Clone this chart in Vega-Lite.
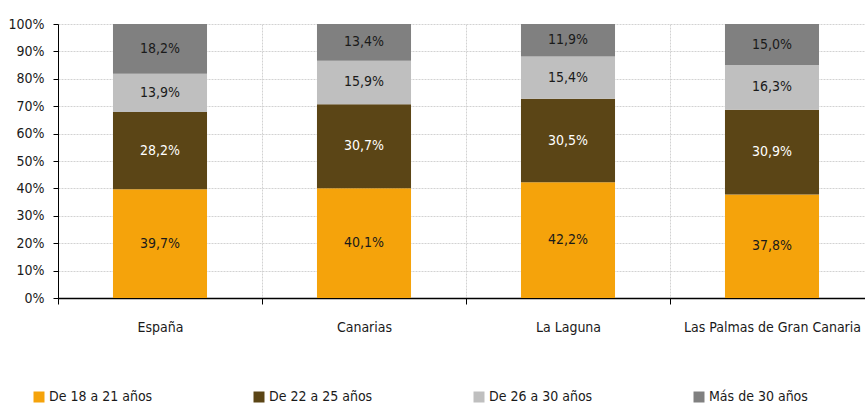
{
  "$schema": "https://vega.github.io/schema/vega-lite/v6.json",
  "autosize": {"type": "none"},
  "width": 807,
  "height": 274,
  "padding": {"left": 58, "top": 24, "right": 0, "bottom": 106},
  "config": {
    "view": {"stroke": null},
    "font": "DejaVu Sans Condensed",
    "axis": {"labelColor": "#1a1a1a", "labelFontSize": 14}
  },
  "data": {
    "values": [
      {"region": "España", "grupo": "De 18 a 21 años", "ord": 1, "pct": 39.7},
      {"region": "España", "grupo": "De 22 a 25 años", "ord": 2, "pct": 28.2},
      {"region": "España", "grupo": "De 26 a 30 años", "ord": 3, "pct": 13.9},
      {"region": "España", "grupo": "Más de 30 años", "ord": 4, "pct": 18.2},
      {"region": "Canarias", "grupo": "De 18 a 21 años", "ord": 1, "pct": 40.1},
      {"region": "Canarias", "grupo": "De 22 a 25 años", "ord": 2, "pct": 30.7},
      {"region": "Canarias", "grupo": "De 26 a 30 años", "ord": 3, "pct": 15.9},
      {"region": "Canarias", "grupo": "Más de 30 años", "ord": 4, "pct": 13.4},
      {"region": "La Laguna", "grupo": "De 18 a 21 años", "ord": 1, "pct": 42.2},
      {"region": "La Laguna", "grupo": "De 22 a 25 años", "ord": 2, "pct": 30.5},
      {"region": "La Laguna", "grupo": "De 26 a 30 años", "ord": 3, "pct": 15.4},
      {"region": "La Laguna", "grupo": "Más de 30 años", "ord": 4, "pct": 11.9},
      {"region": "Las Palmas de Gran Canaria", "grupo": "De 18 a 21 años", "ord": 1, "pct": 37.8},
      {"region": "Las Palmas de Gran Canaria", "grupo": "De 22 a 25 años", "ord": 2, "pct": 30.9},
      {"region": "Las Palmas de Gran Canaria", "grupo": "De 26 a 30 años", "ord": 3, "pct": 16.3},
      {"region": "Las Palmas de Gran Canaria", "grupo": "Más de 30 años", "ord": 4, "pct": 15.0}
    ]
  },
  "layer": [
    {
      "mark": {"type": "bar"},
      "encoding": {
        "x": {
          "field": "region",
          "type": "nominal",
          "sort": ["España", "Canarias", "La Laguna", "Las Palmas de Gran Canaria"],
          "scale": {"range": [0, 816], "paddingInner": 0.539, "paddingOuter": 0.2695},
          "axis": {
            "title": null,
            "labelAngle": 0,
            "labelOverlap": false,
            "bandPosition": 0.5,
            "tickOffset": -102,
            "labelOffset": 102,
            "grid": true,
            "gridDash": [2, 1],
            "gridColor": "#d2d2d2",
            "tickColor": "black",
            "tickSize": 6,
            "domainColor": "black",
            "domainWidth": 1.5,
            "labelPadding": 16
          }
        },
        "y": {
          "field": "pct",
          "type": "quantitative",
          "stack": "normalize",
          "scale": {"domain": [0, 1], "nice": false},
          "axis": {
            "title": null,
            "values": [0, 0.1, 0.2, 0.3, 0.4, 0.5, 0.6, 0.7, 0.8, 0.9, 1],
            "tickCount": 20,
            "format": ".0%",
            "labelOverlap": false,
            "labelFlush": false,
            "grid": true,
            "gridDash": [2, 1],
            "gridColor": "#d2d2d2",
            "domainColor": "black",
            "tickColor": "black",
            "tickSize": 5,
            "labelPadding": 9
          }
        },
        "color": {
          "field": "grupo",
          "type": "nominal",
          "scale": {
            "domain": ["De 18 a 21 años", "De 22 a 25 años", "De 26 a 30 años", "Más de 30 años"],
            "range": ["#F5A30B", "#5B4516", "#BFBFBF", "#808080"]
          },
          "legend": {
            "title": null,
            "orient": "none",
            "legendX": -26,
            "legendY": 366,
            "direction": "horizontal",
            "columns": 4,
            "gridAlign": "all",
            "columnPadding": 99,
            "symbolType": "square",
            "symbolSize": 121,
            "symbolStrokeWidth": 0,
            "symbolOpacity": 1,
            "labelFontSize": 14,
            "labelColor": "#1a1a1a",
            "labelOffset": 3
          }
        },
        "order": {"field": "ord", "type": "quantitative"}
      }
    },
    {
      "transform": [
        {"stack": "pct", "groupby": ["region"], "sort": [{"field": "ord", "order": "ascending"}], "offset": "normalize", "as": ["y0", "y1"]},
        {"calculate": "(datum.y0 + datum.y1) / 2", "as": "ymid"},
        {"calculate": "replace(format(datum.pct, '.1f'), '.', ',') + '%'", "as": "label"}
      ],
      "mark": {"type": "text", "fontSize": 14},
      "encoding": {
        "x": {"field": "region", "type": "nominal", "sort": ["España", "Canarias", "La Laguna", "Las Palmas de Gran Canaria"]},
        "y": {
          "field": "ymid",
          "type": "quantitative",
          "axis": {
            "title": null,
            "values": [0, 0.1, 0.2, 0.3, 0.4, 0.5, 0.6, 0.7, 0.8, 0.9, 1],
            "tickCount": 20,
            "format": ".0%",
            "labelOverlap": false,
            "labelFlush": false,
            "grid": true,
            "gridDash": [2, 1],
            "gridColor": "#d2d2d2",
            "domainColor": "black",
            "tickColor": "black",
            "tickSize": 5,
            "labelPadding": 9
          }
        },
        "text": {"field": "label"},
        "color": {"condition": {"test": "datum.ord == 2", "value": "#ffffff"}, "value": "#1a1a1a"}
      }
    }
  ]
}
